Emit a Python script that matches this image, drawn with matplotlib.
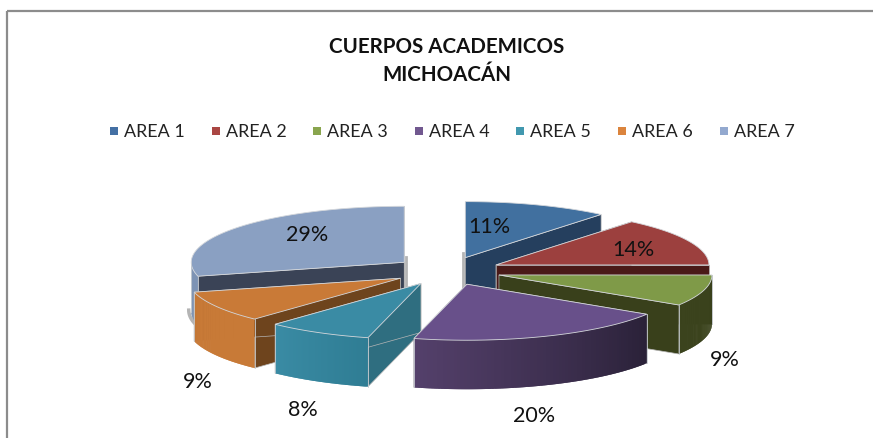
# =========================================================
# plot.py - CUERPOS ACADEMICOS MICHOACAN, EXPLODED 3D PIE
# =========================================================

import numpy as np
import matplotlib
matplotlib.use("Agg")
import matplotlib.pyplot as plt
from matplotlib.colors import to_rgb
from matplotlib.patches import Polygon, Rectangle


# =========================================================
# DATA
# =========================================================
AREAS = ["AREA 1", "AREA 2", "AREA 3", "AREA 4", "AREA 5", "AREA 6", "AREA 7"]
PERCENTS = [11, 14, 9, 20, 8, 9, 29]
TITLE_LINES = ["CUERPOS ACADEMICOS", "MICHOACÁN"]

TOP_COLORS = ["#41709f", "#9c403e", "#7f9a48", "#68508a", "#3a8ba4", "#c97a37", "#8aa0c2"]
FACE_COLORS = ["#253f5e", "#4a1a18", "#39401b", "#2a2138", "#2f6e80", "#6e441d", "#3a4356"]
# wall colours run along the arc, clockwise
WALL_START = ["#253f5e", "#4a1a18", "#3b431d", "#2a2138", "#2f7d94", "#c87a37", "#7d93b4"]
WALL_END = ["#253f5e", "#4a1a18", "#3b431d", "#54406b", "#3a8ba4", "#c87a37", "#7d93b4"]
LEGEND_COLORS = ["#4470a4", "#aa4643", "#89a54e", "#71588f", "#4198af", "#db843d", "#93a9cf"]

# order the slices get painted, back to front
DRAW_ORDER = [6, 0, 1, 2, 5, 4, 3]

# =========================================================
# LAYOUT (pixels of the 873x439 picture)
# =========================================================
WIDTH, HEIGHT = 873, 439
CX, CY = 447, 272
RX, RY = 213, 56
DEPTH = 49
EXPLODE = 0.254

LABEL_POS = {
    0: (489, 227), 1: (633, 250), 2: (725, 360), 3: (534, 416),
    4: (303, 410), 5: (198, 382), 6: (307, 235),
}
LEGEND_BOX_X = [114, 216, 317, 419, 520, 622, 724]
LEGEND_TEXT_X = [124, 226, 327, 429, 530, 632, 734]
LEGEND_Y = 132

FONT = ["Lato", "DejaVu Sans"]


# =========================================================
# HELPERS
# =========================================================
def project(theta, radius=1.0):
    """Clockwise angle from the top (radians) to offsets on the ellipse."""
    return radius * RX * np.sin(theta), -radius * RY * np.cos(theta)


def i_z(i):
    return 2 + DRAW_ORDER.index(i)


def draw_slice(ax, i, start, end):
    mid = (start + end) / 2
    dx, dy = project(mid, EXPLODE)
    tx, ty = CX + dx, CY + dy

    arc = np.linspace(start, end, 80)
    ox, oy = project(arc)
    rim_x, rim_y = tx + ox, ty + oy

    # radial faces, only seen when they turn towards the viewer
    for x, y in ((rim_x[0], rim_y[0]), (rim_x[-1], rim_y[-1])):
        face = [(tx, ty), (x, y), (x, y + DEPTH), (tx, ty + DEPTH)]
        ax.add_patch(Polygon(face, closed=True, fc=FACE_COLORS[i], ec="#b5b5b5", lw=0.5, zorder=i_z(i)))

    # outer wall in strips, so a gradient can run along it
    idx = np.where((arc >= np.pi / 2) & (arc <= 3 * np.pi / 2))[0]
    c0, c1 = np.array(to_rgb(WALL_START[i])), np.array(to_rgb(WALL_END[i]))
    for n in range(len(idx) - 1):
        a, b = idx[n], idx[min(n + 2, len(idx) - 1)]
        quad = [(rim_x[a], rim_y[a]), (rim_x[b], rim_y[b]),
                (rim_x[b], rim_y[b] + DEPTH), (rim_x[a], rim_y[a] + DEPTH)]
        col = c0 + (c1 - c0) * n / max(len(idx) - 2, 1)
        ax.add_patch(Polygon(quad, closed=True, fc=col, ec="none", zorder=i_z(i) + 0.1))

    # top
    top = [(tx, ty)] + list(zip(rim_x, rim_y))
    ax.add_patch(Polygon(top, closed=True, fc=TOP_COLORS[i], ec="#d5d8dc", lw=0.6, zorder=i_z(i) + 0.2))

    # thin lit line where wall meets radial face
    if len(idx) > 1:
        for j in (idx[0], idx[-1]):
            ax.plot([rim_x[j], rim_x[j]], [rim_y[j], rim_y[j] + DEPTH], color="#c8cdd2", lw=0.6, zorder=i_z(i) + 0.3)

    # soft grey shadow on the two back slices
    if i in (0, 6):
        side = -2 if i == 0 else 2
        ax.plot([tx + side, tx + side], [ty - 5, ty + DEPTH - 18], color="#b4b4b4", lw=2, zorder=1)
    if i == 6:
        ax.plot(rim_x[:12] - 2.5, rim_y[:12] + DEPTH - 1, color="#b4b4b4", lw=2.5, zorder=1)


# =========================================================
# FIGURE
# =========================================================
fig = plt.figure(figsize=(WIDTH / 100, HEIGHT / 100), dpi=100)
ax = fig.add_axes([0, 0, 1, 1])
ax.set_xlim(0, WIDTH)
ax.set_ylim(HEIGHT, 0)
ax.axis("off")

# chart border: only left and top fall inside the crop
ax.plot([7, 7], [HEIGHT, 12], color="#8c8c8c", lw=1.6, zorder=0, solid_capstyle="butt")
ax.plot([7, WIDTH], [12, 12], color="#8c8c8c", lw=1.6, zorder=0, solid_capstyle="butt")

fractions = np.array(PERCENTS) / sum(PERCENTS)
edges = np.concatenate([[0], np.cumsum(fractions)]) * 2 * np.pi

for i in DRAW_ORDER:
    draw_slice(ax, i, edges[i], edges[i + 1])

for i, pct in enumerate(PERCENTS):
    x, y = LABEL_POS[i]
    ax.text(x, y, f"{pct}%", ha="center", va="center", fontsize=15.5, color="#111111", family=FONT, zorder=20)

ax.text(447, 47, TITLE_LINES[0], ha="center", va="center", fontsize=14.8, fontweight="bold", color="#111111", family=FONT)
ax.text(447, 75, TITLE_LINES[1], ha="center", va="center", fontsize=14.8, fontweight="bold", color="#111111", family=FONT)

for i, name in enumerate(AREAS):
    ax.add_patch(Rectangle((LEGEND_BOX_X[i] - 4, LEGEND_Y - 4), 8, 8, fc=LEGEND_COLORS[i], ec="none"))
    ax.text(LEGEND_TEXT_X[i], LEGEND_Y, name, ha="left", va="center", fontsize=12.9, color="#222222", family=FONT)

fig.savefig("out.png", dpi=100)
